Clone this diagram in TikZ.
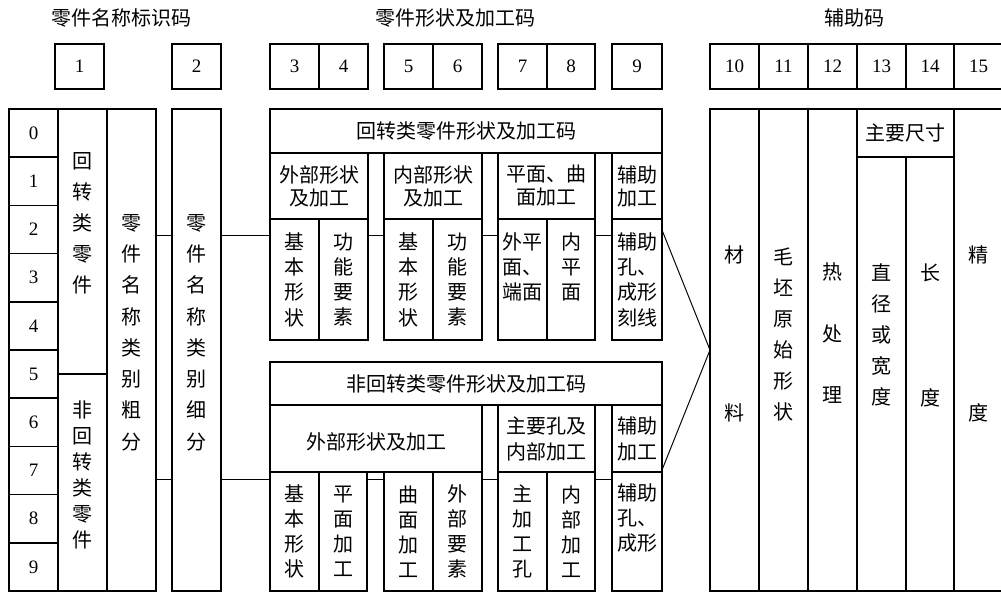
\documentclass[tikz,border=0pt]{standalone}
\usepackage{fontspec}
\setmainfont{Liberation Serif}
\newfontfamily\cjk{Noto Sans CJK SC}
\tikzset{
  box/.style={draw, line width=1.5pt, inner sep=0pt, outer sep=0pt},
  conn/.style={line width=1pt},
  zh/.style={font=\cjk\fontsize{20}{#1}\selectfont, inner sep=0pt, align=center},
  zh/.default=24,
  num/.style={font=\fontsize{19}{19}\selectfont},
}
\newcommand\bx[7][]{\node[box,#1, minimum width={(#5-#3)*1pt}, minimum height={(#6-#4)*1pt}] (#2) at ({(#3+#5)/2},{(#4+#6)/2}) {#7};}
\begin{document}
\begin{tikzpicture}[x=1pt,y=-1pt]
\useasboundingbox (0,0) rectangle (1001,593);
% titles
\node[zh] (tA) at (121,18) {零件名称标识码};
\node[zh] (tB) at (455,18) {零件形状及加工码};
\node[zh] (tC) at (854,18) {辅助码};
% header digit boxes
\bx[num]{h1}{55}{44}{104}{89}{1}
\bx[num]{h2}{172}{44}{221}{89}{2}
\bx[num]{h3}{270}{44}{319}{89}{3}
\bx[num]{h4}{319}{44}{368}{89}{4}
\bx[num]{h5}{384}{44}{433}{89}{5}
\bx[num]{h6}{433}{44}{482}{89}{6}
\bx[num]{h7}{498}{44}{547}{89}{7}
\bx[num]{h8}{547}{44}{595}{89}{8}
\bx[num]{h9}{612}{44}{662}{89}{9}
\bx[num]{h10}{710}{44}{759}{89}{10}
\bx[num]{h11}{759}{44}{808}{89}{11}
\bx[num]{h12}{808}{44}{857}{89}{12}
\bx[num]{h13}{857}{44}{906}{89}{13}
\bx[num]{h14}{906}{44}{954}{89}{14}
\bx[num]{h15}{954}{44}{1003}{89}{15}
% left column digits
\foreach \i in {0,...,9}{
  \pgfmathsetmacro\ya{109+48.2*\i}
  \pgfmathsetmacro\yb{109+48.2*(\i+1)}
  \bx[num]{d\i}{9}{\ya}{58}{\yb}{\i}
}
% columns 2-4
\bx{rot}{58}{109}{107}{374}{}
\bx{nrot}{58}{374}{107}{591}{}
\bx{coarse}{107}{109}{156}{591}{}
\bx{fine}{172}{109}{221}{591}{}
\node[zh=31] (trot) at (82,223.5) {回\\转\\类\\零\\件};
\node[zh=26] (tnrot) at (82,475) {非\\回\\转\\类\\零\\件};
\node[zh=31.3] (tcoarse) at (131.5,332.5) {零\\件\\名\\称\\类\\别\\粗\\分};
\node[zh=31.3] (tfine) at (196.5,332.5) {零\\件\\名\\称\\类\\别\\细\\分};
% upper block
\bx[zh]{U}{270}{109}{662}{153}{回转类零件形状及加工码}
\bx[zh=23]{U1h}{270}{153}{368}{219}{外部形状\\及加工}
\bx[zh=23]{U2h}{384}{153}{482}{219}{内部形状\\及加工}
\bx[zh=23]{U3h}{498}{153}{595}{219}{平面、曲\\面加工}
\bx[zh=23]{U4h}{612}{153}{662}{219}{辅助\\加工}
\bx[zh=25.3]{U1a}{270}{219}{319}{340}{基\\本\\形\\状}
\bx[zh=25.3]{U1b}{319}{219}{368}{340}{功\\能\\要\\素}
\bx[zh=25.3]{U2a}{384}{219}{433}{340}{基\\本\\形\\状}
\bx[zh=25.3]{U2b}{433}{219}{482}{340}{功\\能\\要\\素}
\bx{U3a}{498}{219}{547}{340}{}
\bx{U3b}{547}{219}{595}{340}{}
\bx[zh=25.3]{U4l}{612}{219}{662}{340}{辅助\\孔、\\成形\\刻线}
\node[zh=25] (tU3a) at (522.5,267) {外平\\面、\\端面};
\node[zh=25] (tU3b) at (571,267) {内\\平\\面};
% lower block
\bx[zh]{L}{270}{362}{662}{405}{非回转类零件形状及加工码}
\bx{LAh}{270}{405}{482}{472}{}
\node[zh] (tLAh) at (376,442) {外部形状及加工};
\bx[zh=26]{LBh}{498}{405}{595}{472}{主要孔及\\内部加工}
\bx[zh=26]{LCh}{612}{405}{662}{472}{辅助\\加工}
\bx[zh=25]{LA1a}{270}{472}{319}{591}{基\\本\\形\\状}
\bx[zh=25]{LA1b}{319}{472}{367}{591}{平\\面\\加\\工}
\bx[zh=25]{LA2a}{384}{472}{433}{591}{曲\\面\\加\\工}
\bx[zh=25]{LA2b}{433}{472}{482}{591}{外\\部\\要\\素}
\bx[zh=25]{LBa}{498}{472}{547}{591}{主\\加\\工\\孔}
\bx[zh=25]{LBb}{547}{472}{595}{591}{内\\部\\加\\工}
\bx{LCl}{612}{472}{662}{591}{}
\node[zh=25] (tLCl) at (637,518) {辅助\\孔、\\成形};
% right block
\bx{R10}{710}{109}{759}{591}{}
\bx{R11}{759}{109}{808}{591}{}
\bx{R12}{808}{109}{857}{591}{}
\bx[zh]{Rsz}{857}{109}{954}{157}{主要尺寸}
\bx{R13}{857}{157}{906}{591}{}
\bx{R14}{906}{157}{954}{591}{}
\bx{R15}{954}{109}{1003}{591}{}
\node[zh=158] (t10) at (734.5,334) {材\\料};
\node[zh=31] (t11) at (783.5,334.5) {毛\\坯\\原\\始\\形\\状};
\node[zh=61.5] (t12) at (832.5,333.5) {热\\处\\理};
\node[zh=31] (t13) at (881.5,335) {直\\径\\或\\宽\\度};
\node[zh=125] (t14) at (930,335.5) {长\\度};
\node[zh=158] (t15) at (978.5,334) {精\\度};
% connectors
\coordinate (yu) at (0,236);
\coordinate (yl) at (0,479);
\coordinate (yd1) at (0,230);
\coordinate (yd2) at (0,470);
\coordinate (ym) at (0,350);
\draw[conn] (coarse.east |- yu) -- (fine.west |- yu);
\draw[conn] (coarse.east |- yl) -- (fine.west |- yl);
\draw[conn] (fine.east |- yu) -- (U1a.west |- yu);
\draw[conn] (U1b.east |- yu) -- (U2a.west |- yu);
\draw[conn] (U2b.east |- yu) -- (U3a.west |- yu);
\draw[conn] (U3b.east |- yu) -- (U4l.west |- yu);
\draw[conn] (fine.east |- yl) -- (LA1a.west |- yl);
\draw[conn] (LA1b.east |- yl) -- (LA2a.west |- yl);
\draw[conn] (LA2b.east |- yl) -- (LBa.west |- yl);
\draw[conn] (LBb.east |- yl) -- (LCl.west |- yl);
\draw[conn] (U4l.east |- yd1) -- (R10.west |- ym) -- (LCh.east |- yd2);
\end{tikzpicture}
\end{document}
